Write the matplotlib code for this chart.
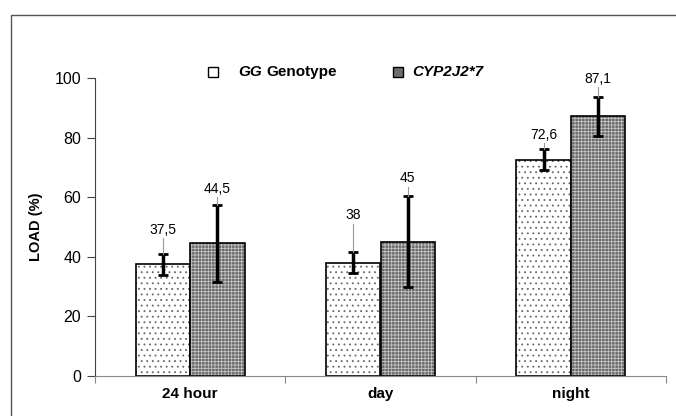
import numpy as np
import matplotlib.pyplot as plt
from matplotlib.patches import Rectangle

plt.rcParams['font.family'] = ['Liberation Sans', 'DejaVu Sans']
plt.rcParams['hatch.linewidth'] = 0.6

##### data
categories = ["24 hour", "day", "night"]
gg_vals = [37.5, 38, 72.6]
gg_err = [3.5, 3.5, 3.6]
cyp_vals = [44.5, 45, 87.1]
cyp_err = [13, 15.3, 6.4]
gg_labels = ["37,5", "38", "72,6"]
cyp_labels = ["44,5", "45", "87,1"]
# height of the value labels above the error bars
gg_lab_gap = [8, 12.4, 4.7]
cyp_lab_gap = [5.4, 6, 6.3]

fig = plt.figure(figsize=(6.76, 4.16), dpi=100)
ax = fig.add_axes([95 / 676, 40 / 416, 571 / 676, 298 / 416])

# outer frame of the chart area
fig.patches.append(Rectangle((11 / 676, -0.1), 1.2, 1.1 - 15 / 416, transform=fig.transFigure,
                             fill=False, edgecolor="#555555", linewidth=1.0))

x = np.arange(len(categories)) + 0.5
w = 0.287

# dotted white bars
ax.bar(x - w / 2, gg_vals, w, color="white", edgecolor="#666666", hatch="...", linewidth=0)
ax.bar(x - w / 2, gg_vals, w, fill=False, edgecolor="black", linewidth=1.2)
# gray textured bars
ax.bar(x + w / 2, cyp_vals, w, color="#686868", edgecolor="#c4c4c4", hatch="+++++", linewidth=0)
ax.bar(x + w / 2, cyp_vals, w, fill=False, edgecolor="black", linewidth=1.2)

ax.errorbar(x - w / 2, gg_vals, yerr=gg_err, fmt="none", ecolor="black", elinewidth=2.5, capsize=3.5, capthick=2)
ax.errorbar(x + w / 2, cyp_vals, yerr=cyp_err, fmt="none", ecolor="black", elinewidth=2.5, capsize=3.5, capthick=2)

for xs, vals, errs, gaps, labs in [(x - w / 2, gg_vals, gg_err, gg_lab_gap, gg_labels),
                                   (x + w / 2, cyp_vals, cyp_err, cyp_lab_gap, cyp_labels)]:
    for xi, v, e, g, t in zip(xs, vals, errs, gaps, labs):
        top = v + e
        ax.plot([xi, xi], [top, top + g - 2.8], color="#999999", linewidth=0.8)
        ax.text(xi, top + g, t, ha="center", va="center", fontsize=10)

ax.set_xlim(0, 3)
ax.set_ylim(0, 100)
ax.set_yticks([0, 20, 40, 60, 80, 100])
ax.tick_params(axis="y", labelsize=11.5, length=6, color="#444444", pad=4)
ax.set_xticks([0, 1, 2, 3])
ax.set_xticklabels([])
ax.set_xticks(x, minor=True)
ax.set_xticklabels(categories, minor=True, fontweight="bold", fontsize=11)
ax.tick_params(axis="x", which="major", length=5, color="#888888")
ax.tick_params(axis="x", which="minor", length=0, pad=8)
ax.set_ylabel("LOAD (%)", fontweight="bold", fontsize=10.5, labelpad=8)

ax.spines["top"].set_visible(False)
ax.spines["right"].set_visible(False)
ax.spines["left"].set_color("#444444")
ax.spines["bottom"].set_color("#888888")

# legend row at the top
ly = 1 - 72 / 416
fig.text(238 / 676, ly, "GG", fontsize=11, fontweight="bold", fontstyle="italic", va="center")
fig.text(266 / 676, ly, "Genotype", fontsize=11, fontweight="bold", va="center")
fig.text(412 / 676, ly, "CYP2J2*7", fontsize=11, fontweight="bold", fontstyle="italic", va="center")
fig.patches.append(Rectangle((208 / 676, 1 - 77 / 416), 10 / 676, 10 / 416, transform=fig.transFigure,
                             facecolor="white", edgecolor="black", linewidth=1))
fig.patches.append(Rectangle((393 / 676, 1 - 77 / 416), 10 / 676, 10 / 416, transform=fig.transFigure,
                             facecolor="#6e6e6e", edgecolor="black", linewidth=1))

fig.savefig("out.png", dpi=100)
